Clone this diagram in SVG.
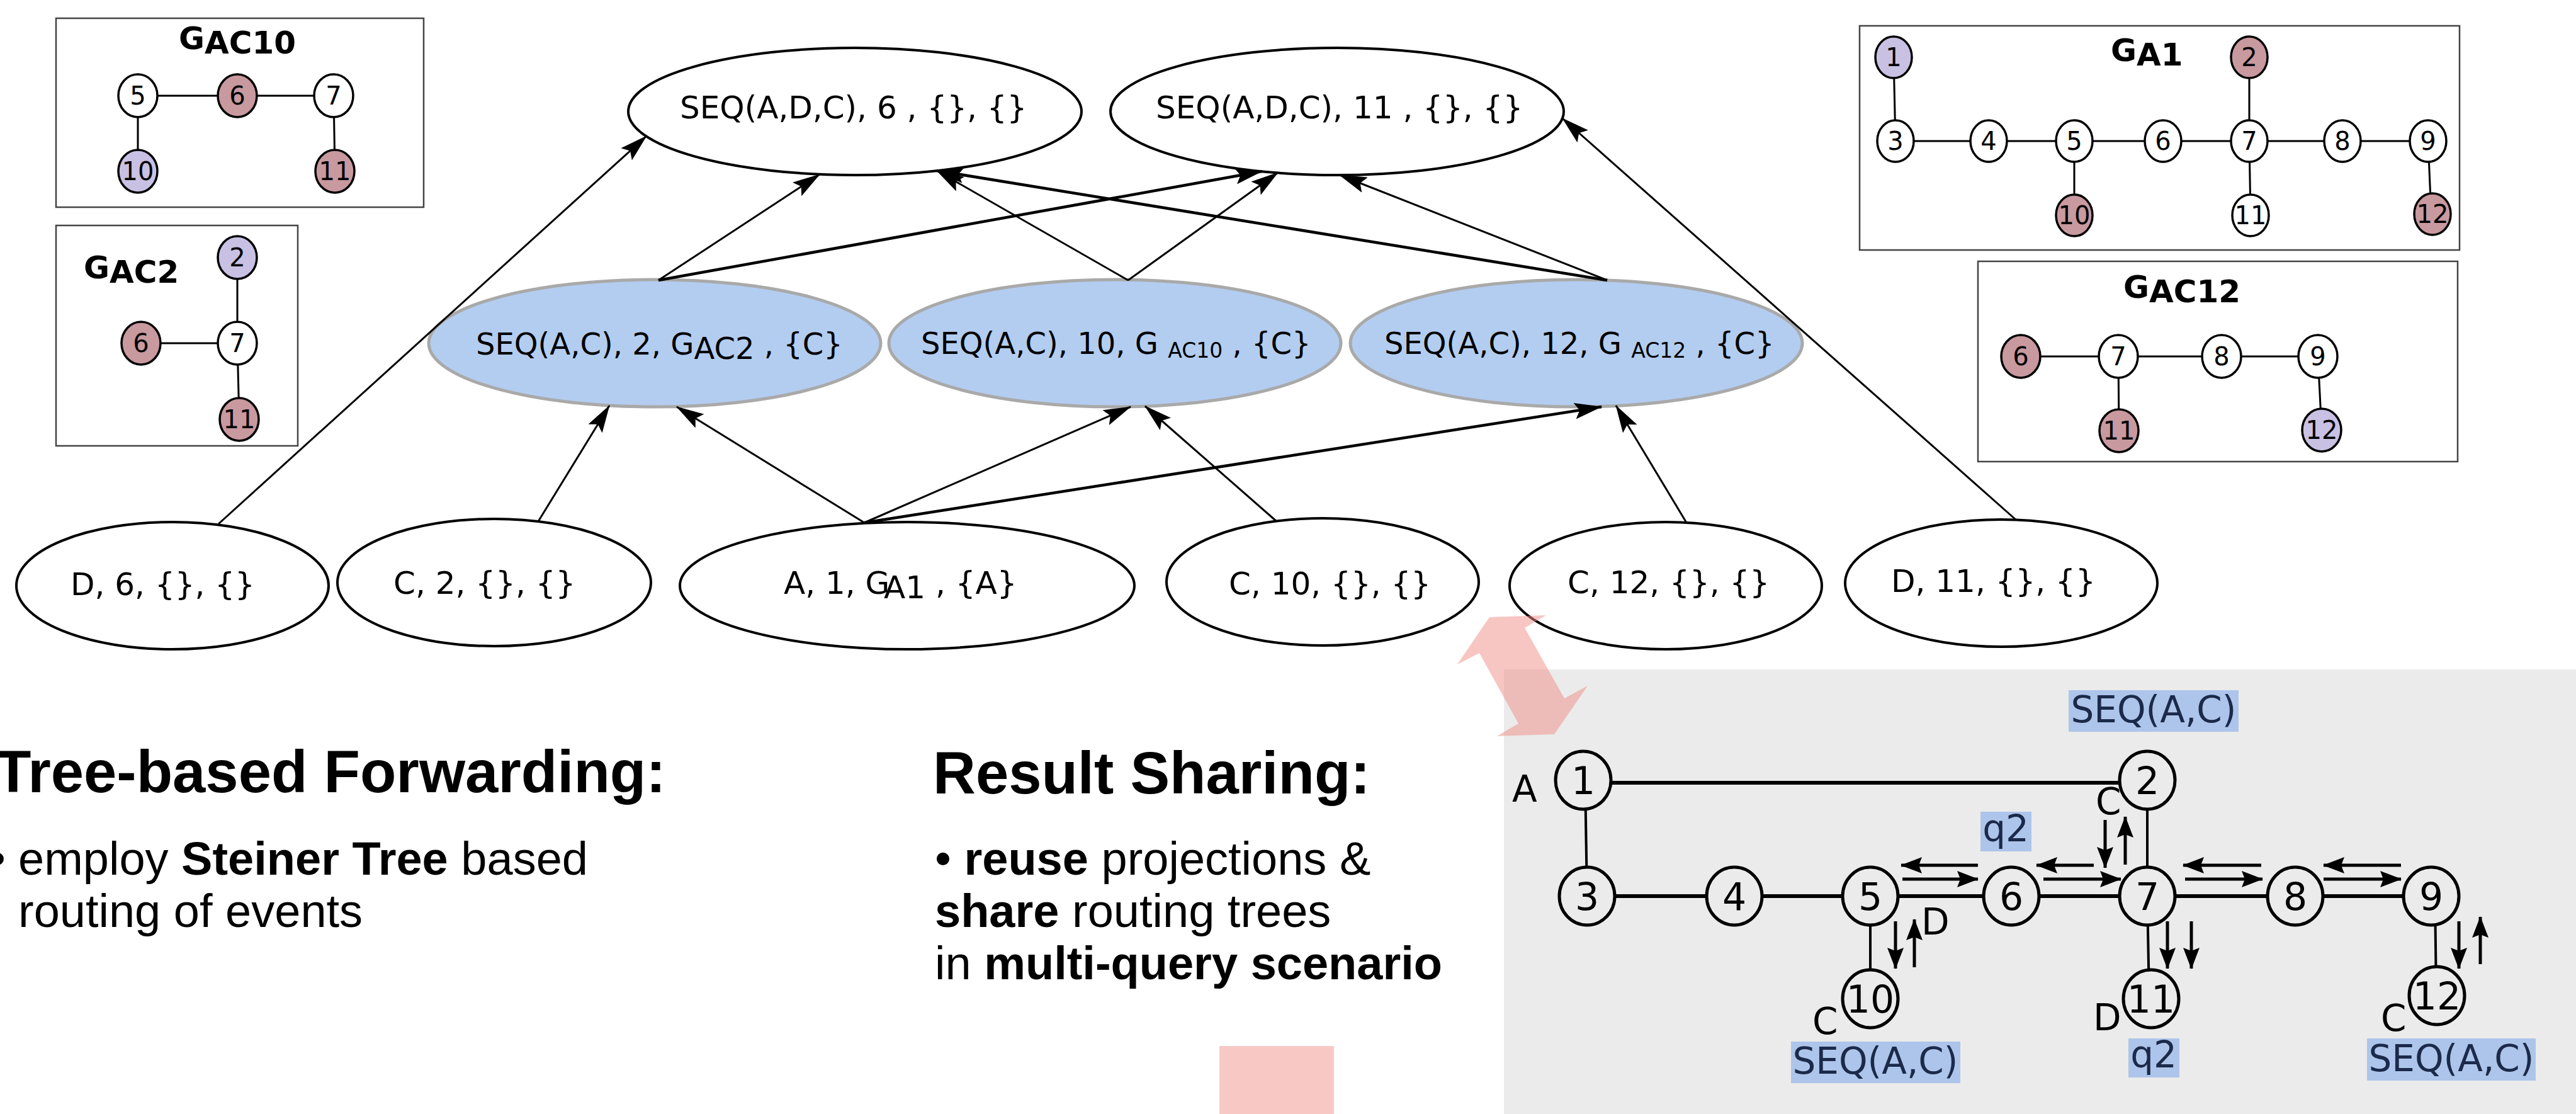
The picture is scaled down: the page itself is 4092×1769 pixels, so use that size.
<svg xmlns="http://www.w3.org/2000/svg" width="4092" height="1769" viewBox="0 0 4092 1769">
  <defs>
    <marker id="ah" viewBox="0 0 44 26" markerUnits="userSpaceOnUse" markerWidth="44" markerHeight="26" refX="43" refY="13" orient="auto">
      <path d="M0,0 L44,13 L0,26 L8,13 Z" fill="#000"/>
    </marker>
    <marker id="an" viewBox="0 0 34 26" markerUnits="userSpaceOnUse" markerWidth="34" markerHeight="26" refX="33" refY="13" orient="auto">
      <path d="M0,0 L34,13 L0,26 L5,13 Z" fill="#000"/>
    </marker>
  </defs>
  <style>
    text { font-family: "DejaVu Sans", "Noto Sans", sans-serif; fill: #000; }
    .box { fill: #fff; stroke: #444; stroke-width: 2.5; }
    .gt { font-weight: bold; font-size: 50px; }
    .ge { stroke: #000; stroke-width: 3; }
    .gn { stroke: #000; stroke-width: 3.5; }
    .gn.w { fill: #fff; }
    .gn.r { fill: #c8999f; }
    .gn.l { fill: #c9c1e3; }
    .gl { font-size: 40px; text-anchor: middle; }
    .top { fill: #fff; stroke: #000; stroke-width: 4; }
    .mid { fill: #b3cdf0; stroke: #a9a9a9; stroke-width: 5; }
    .bot { fill: #fff; stroke: #000; stroke-width: 4; }
    .lt { font-size: 50px; }
    .mt { font-size: 48px; }
    .sub { font-size: 33px; }
    .cn line { stroke: #000; stroke-width: 3; marker-end: url(#ah); }
    .cn line.thick { stroke-width: 4.5; }
    .hd { font-family: "Liberation Sans", Arial, sans-serif; font-weight: bold; font-size: 94px; }
    .bl { font-family: "Liberation Sans", Arial, sans-serif; font-size: 74px; }
    .b { font-weight: bold; }
    .ne { stroke: #000; stroke-width: 5; }
    .nn { fill: #ebebeb; stroke: #000; stroke-width: 5; }
    .nl { font-size: 60px; text-anchor: middle; }
    .lab { font-size: 58px; }
    .hlb { fill: #adc5ea; }
    .hlt { font-size: 58px; text-anchor: middle; fill: #1b2a4a; }
    .na line { stroke: #000; stroke-width: 5; marker-end: url(#an); }
  </style>

  <rect width="4092" height="1769" fill="#fff"/>

  <!-- graph G_AC10 -->
  <g id="g-ac10">
    <rect class="box" x="89" y="29" width="584" height="300"/>
    <text class="gt" x="284" y="78">G<tspan dy="7">AC10</tspan></text>
    <line class="ge" x1="219" y1="152" x2="530" y2="152"/>
    <line class="ge" x1="219" y1="152" x2="219" y2="272"/>
    <line class="ge" x1="530" y1="152" x2="532" y2="272"/>
    <ellipse class="gn w" cx="219" cy="152" rx="31" ry="34"/><text class="gl" x="219" y="166">5</text>
    <ellipse class="gn r" cx="377" cy="152" rx="31" ry="34"/><text class="gl" x="377" y="166">6</text>
    <ellipse class="gn w" cx="530" cy="152" rx="31" ry="34"/><text class="gl" x="530" y="166">7</text>
    <ellipse class="gn l" cx="219" cy="272" rx="31" ry="34"/><text class="gl" x="219" y="286">10</text>
    <ellipse class="gn r" cx="532" cy="272" rx="31" ry="34"/><text class="gl" x="532" y="286">11</text>
  </g>

  <!-- graph G_AC2 -->
  <g id="g-ac2">
    <rect class="box" x="89" y="358" width="384" height="350"/>
    <text class="gt" x="133" y="442">G<tspan dy="7">AC2</tspan></text>
    <line class="ge" x1="377" y1="409" x2="377" y2="545"/>
    <line class="ge" x1="224" y1="545" x2="377" y2="545"/>
    <line class="ge" x1="377" y1="545" x2="380" y2="666"/>
    <ellipse class="gn l" cx="377" cy="409" rx="31" ry="34"/><text class="gl" x="377" y="423">2</text>
    <ellipse class="gn r" cx="224" cy="545" rx="31" ry="34"/><text class="gl" x="224" y="559">6</text>
    <ellipse class="gn w" cx="377" cy="545" rx="31" ry="34"/><text class="gl" x="377" y="559">7</text>
    <ellipse class="gn r" cx="380" cy="666" rx="31" ry="34"/><text class="gl" x="380" y="680">11</text>
  </g>

  <!-- graph G_A1 -->
  <g id="g-a1">
    <rect class="box" x="2954" y="41" width="953" height="356"/>
    <text class="gt" x="3353" y="97">G<tspan dy="7">A1</tspan></text>
    <line class="ge" x1="3008" y1="91" x2="3011" y2="224"/>
    <line class="ge" x1="3011" y1="224" x2="3857" y2="224"/>
    <line class="ge" x1="3573" y1="91" x2="3573" y2="224"/>
    <line class="ge" x1="3295" y1="224" x2="3295" y2="342"/>
    <line class="ge" x1="3573" y1="224" x2="3575" y2="342"/>
    <line class="ge" x1="3857" y1="224" x2="3862" y2="340"/>
    <ellipse class="gn l" cx="3008" cy="91" rx="29" ry="33"/><text class="gl" x="3008" y="105">1</text>
    <ellipse class="gn r" cx="3573" cy="91" rx="29" ry="33"/><text class="gl" x="3573" y="105">2</text>
    <ellipse class="gn w" cx="3011" cy="224" rx="29" ry="33"/><text class="gl" x="3011" y="238">3</text>
    <ellipse class="gn w" cx="3159" cy="224" rx="29" ry="33"/><text class="gl" x="3159" y="238">4</text>
    <ellipse class="gn w" cx="3295" cy="224" rx="29" ry="33"/><text class="gl" x="3295" y="238">5</text>
    <ellipse class="gn w" cx="3436" cy="224" rx="29" ry="33"/><text class="gl" x="3436" y="238">6</text>
    <ellipse class="gn w" cx="3573" cy="224" rx="29" ry="33"/><text class="gl" x="3573" y="238">7</text>
    <ellipse class="gn w" cx="3721" cy="224" rx="29" ry="33"/><text class="gl" x="3721" y="238">8</text>
    <ellipse class="gn w" cx="3857" cy="224" rx="29" ry="33"/><text class="gl" x="3857" y="238">9</text>
    <ellipse class="gn r" cx="3295" cy="342" rx="29" ry="33"/><text class="gl" x="3295" y="356">10</text>
    <ellipse class="gn w" cx="3575" cy="342" rx="29" ry="33"/><text class="gl" x="3575" y="356">11</text>
    <ellipse class="gn r" cx="3864" cy="340" rx="29" ry="33"/><text class="gl" x="3864" y="354">12</text>
  </g>

  <!-- graph G_AC12 -->
  <g id="g-ac12">
    <rect class="box" x="3142" y="415" width="762" height="318"/>
    <text class="gt" x="3373" y="473">G<tspan dy="7">AC12</tspan></text>
    <line class="ge" x1="3210" y1="566" x2="3682" y2="566"/>
    <line class="ge" x1="3365" y1="566" x2="3366" y2="684"/>
    <line class="ge" x1="3682" y1="566" x2="3688" y2="683"/>
    <ellipse class="gn r" cx="3210" cy="566" rx="31" ry="34"/><text class="gl" x="3210" y="580">6</text>
    <ellipse class="gn w" cx="3365" cy="566" rx="31" ry="34"/><text class="gl" x="3365" y="580">7</text>
    <ellipse class="gn w" cx="3529" cy="566" rx="31" ry="34"/><text class="gl" x="3529" y="580">8</text>
    <ellipse class="gn w" cx="3682" cy="566" rx="31" ry="34"/><text class="gl" x="3682" y="580">9</text>
    <ellipse class="gn r" cx="3366" cy="684" rx="31" ry="34"/><text class="gl" x="3366" y="698">11</text>
    <ellipse class="gn l" cx="3688" cy="683" rx="31" ry="34"/><text class="gl" x="3688" y="697">12</text>
  </g>

  <!-- query nodes: combined queries -->
  <g id="q-adc-6">
    <ellipse class="top" cx="1358" cy="177" rx="360" ry="101"/>
    <text class="lt" x="1080" y="188">SEQ(A,D,C), 6 , {}, {}</text>
  </g>
  <g id="q-adc-11">
    <ellipse class="top" cx="2124" cy="177" rx="360" ry="101"/>
    <text class="lt" x="1836" y="188">SEQ(A,D,C), 11 , {}, {}</text>
  </g>

  <!-- shared projections -->
  <g id="p-ac-2">
    <ellipse class="mid" cx="1040" cy="545" rx="359" ry="101"/>
    <text class="mt" x="756" y="563">SEQ(A,C), 2, G<tspan dy="7">AC2</tspan><tspan dy="-7"> , {C}</tspan></text>
  </g>
  <g id="p-ac-10">
    <ellipse class="mid" cx="1771" cy="545" rx="359" ry="101"/>
    <text class="mt" x="1463" y="562">SEQ(A,C), 10, G <tspan class="sub" dy="6">AC10</tspan><tspan dy="-6"> , {C}</tspan></text>
  </g>
  <g id="p-ac-12">
    <ellipse class="mid" cx="2504" cy="545" rx="359" ry="101"/>
    <text class="mt" x="2199" y="562">SEQ(A,C), 12, G <tspan class="sub" dy="6">AC12</tspan><tspan dy="-6"> , {C}</tspan></text>
  </g>

  <!-- primitive event sources -->
  <g id="e-d-6">
    <ellipse class="bot" cx="274" cy="930" rx="248" ry="101"/>
    <text class="lt" x="112" y="945">D, 6, {}, {}</text>
  </g>
  <g id="e-c-2">
    <ellipse class="bot" cx="785" cy="925" rx="249" ry="101"/>
    <text class="lt" x="625" y="943">C, 2, {}, {}</text>
  </g>
  <g id="e-a-1">
    <ellipse class="bot" cx="1441" cy="930" rx="361" ry="101"/>
    <text class="lt" x="1245" y="943">A, 1, G<tspan x="1404" dy="7">A1</tspan><tspan dy="-7"> , {A}</tspan></text>
  </g>
  <g id="e-c-10">
    <ellipse class="bot" cx="2101" cy="924" rx="248" ry="101"/>
    <text class="lt" x="1952" y="944">C, 10, {}, {}</text>
  </g>
  <g id="e-c-12">
    <ellipse class="bot" cx="2646" cy="930" rx="248" ry="101"/>
    <text class="lt" x="2490" y="942">C, 12, {}, {}</text>
  </g>
  <g id="e-d-11">
    <ellipse class="bot" cx="3179" cy="926" rx="248" ry="101"/>
    <text class="lt" x="3004" y="940">D, 11, {}, {}</text>
  </g>

  <!-- dependencies between operators -->
  <g id="connectors" class="cn">
    <line x1="347" y1="832" x2="1027" y2="216"/>
    <line x1="855" y1="828" x2="968" y2="644"/>
    <line x1="1373" y1="830" x2="1075" y2="646"/>
    <line x1="1373" y1="830" x2="1796" y2="646"/>
    <line class="thick" x1="1373" y1="830" x2="2544" y2="646"/>
    <line x1="2028" y1="828" x2="1819" y2="645"/>
    <line x1="2679" y1="830" x2="2567" y2="644"/>
    <line x1="3203" y1="826" x2="2482" y2="188"/>
    <line x1="1046" y1="445" x2="1302" y2="277"/>
    <line class="thick" x1="1046" y1="445" x2="2005" y2="272"/>
    <line x1="1792" y1="445" x2="1488" y2="271"/>
    <line x1="1792" y1="445" x2="2030" y2="274"/>
    <line class="thick" x1="2553" y1="445" x2="1488" y2="271"/>
    <line x1="2553" y1="445" x2="2128" y2="278"/>
  </g>

  <!-- text columns -->
  <g id="text-forwarding">
    <text class="hd" x="-8" y="1258">Tree-based Forwarding:</text>
    <text class="bl" y="1389"><tspan x="-17">•</tspan><tspan x="29">employ </tspan><tspan class="b">Steiner Tree</tspan> based</text>
    <text class="bl" x="29" y="1472">routing of events</text>
  </g>
  <g id="text-sharing">
    <text class="hd" x="1482" y="1260">Result Sharing:</text>
    <text class="bl" x="1485" y="1389">• <tspan class="b">reuse</tspan> projections &amp;</text>
    <text class="bl" x="1485" y="1472"><tspan class="b">share</tspan> routing trees</text>
    <text class="bl" x="1485" y="1555">in <tspan class="b">multi-query scenario</tspan></text>
  </g>

  <rect x="1937" y="1661" width="182" height="108" fill="#f8c9c4"/>

  <!-- network panel -->
  <g id="network">
    <rect x="2389" y="1063" width="1703" height="706" fill="#ebebeb"/>
    <line class="ne" x1="2515" y1="1243" x2="3411" y2="1243" style="stroke-width:6"/>
    <line class="ne" x1="2518" y1="1239" x2="2521" y2="1423" style="stroke-width:4"/>
    <line class="ne" x1="2521" y1="1423" x2="3862" y2="1423" style="stroke-width:6"/>
    <line class="ne" x1="3411" y1="1239" x2="3411" y2="1423" style="stroke-width:4"/>
    <line class="ne" x1="2971" y1="1423" x2="2971" y2="1586" style="stroke-width:4"/>
    <line class="ne" x1="3411" y1="1423" x2="3414" y2="1586" style="stroke-width:4"/>
    <line class="ne" x1="3868" y1="1423" x2="3870" y2="1581" style="stroke-width:4"/>

    <g id="n1"><ellipse class="nn" cx="2515" cy="1239" rx="44" ry="46"/><text class="nl" x="2515" y="1261">1</text></g>
    <g id="n2"><ellipse class="nn" cx="3411" cy="1239" rx="44" ry="46"/><text class="nl" x="3411" y="1261">2</text></g>
    <g id="n3"><ellipse class="nn" cx="2521" cy="1423" rx="44" ry="46"/><text class="nl" x="2521" y="1445">3</text></g>
    <g id="n4"><ellipse class="nn" cx="2755" cy="1423" rx="44" ry="46"/><text class="nl" x="2755" y="1445">4</text></g>
    <g id="n5"><ellipse class="nn" cx="2971" cy="1423" rx="44" ry="46"/><text class="nl" x="2971" y="1445">5</text></g>
    <g id="n6"><ellipse class="nn" cx="3195" cy="1423" rx="44" ry="46"/><text class="nl" x="3195" y="1445">6</text></g>
    <g id="n7"><ellipse class="nn" cx="3411" cy="1423" rx="44" ry="46"/><text class="nl" x="3411" y="1445">7</text></g>
    <g id="n8"><ellipse class="nn" cx="3646" cy="1423" rx="44" ry="46"/><text class="nl" x="3646" y="1445">8</text></g>
    <g id="n9"><ellipse class="nn" cx="3862" cy="1423" rx="44" ry="46"/><text class="nl" x="3862" y="1445">9</text></g>
    <g id="n10"><ellipse class="nn" cx="2971" cy="1586" rx="44" ry="46"/><text class="nl" x="2971" y="1608">10</text></g>
    <g id="n11"><ellipse class="nn" cx="3417" cy="1586" rx="44" ry="46"/><text class="nl" x="3417" y="1608">11</text></g>
    <g id="n12"><ellipse class="nn" cx="3871" cy="1581" rx="44" ry="46"/><text class="nl" x="3871" y="1603">12</text></g>

    <text class="lab" x="2402" y="1273">A</text>
    <text class="lab" x="3329" y="1293">C</text>
    <text class="lab" x="3052" y="1484">D</text>
    <text class="lab" x="2879" y="1642">C</text>
    <text class="lab" x="3325" y="1636">D</text>
    <text class="lab" x="3782" y="1637">C</text>

    <rect class="hlb" x="3286" y="1096" width="270" height="66"/>
    <text class="hlt" x="3421" y="1147">SEQ(A,C)</text>
    <rect class="hlb" x="3146" y="1289" width="81" height="63"/>
    <text class="hlt" x="3186" y="1336">q2</text>
    <rect class="hlb" x="2845" y="1654" width="269" height="66"/>
    <text class="hlt" x="2979" y="1705">SEQ(A,C)</text>
    <rect class="hlb" x="3381" y="1649" width="81" height="62"/>
    <text class="hlt" x="3421" y="1695">q2</text>
    <rect class="hlb" x="3760" y="1649" width="268" height="67"/>
    <text class="hlt" x="3894" y="1701">SEQ(A,C)</text>

    <g class="na">
      <line x1="3142" y1="1374" x2="3020" y2="1374"/>
      <line x1="3022" y1="1396" x2="3142" y2="1396"/>
      <line x1="3326" y1="1374" x2="3235" y2="1374"/>
      <line x1="3246" y1="1396" x2="3369" y2="1396"/>
      <line x1="3592" y1="1374" x2="3468" y2="1374"/>
      <line x1="3471" y1="1396" x2="3594" y2="1396"/>
      <line x1="3814" y1="1374" x2="3691" y2="1374"/>
      <line x1="3691" y1="1396" x2="3814" y2="1396"/>
      <line x1="3344" y1="1302" x2="3344" y2="1378"/>
      <line x1="3376" y1="1373" x2="3376" y2="1297"/>
      <line x1="3011" y1="1463" x2="3011" y2="1538"/>
      <line x1="3041" y1="1536" x2="3041" y2="1460"/>
      <line x1="3443" y1="1463" x2="3443" y2="1538"/>
      <line x1="3481" y1="1463" x2="3481" y2="1538"/>
      <line x1="3906" y1="1463" x2="3906" y2="1538"/>
      <line x1="3940" y1="1531" x2="3940" y2="1456"/>
    </g>
  </g>

  <!-- link between query plan and network -->
  <polygon points="2366,980 2456,977 2422,997 2485,1109 2522,1089 2469,1166 2378,1169 2412,1149 2350,1037 2315,1055" fill="#f08d85" fill-opacity="0.5"/>
</svg>
